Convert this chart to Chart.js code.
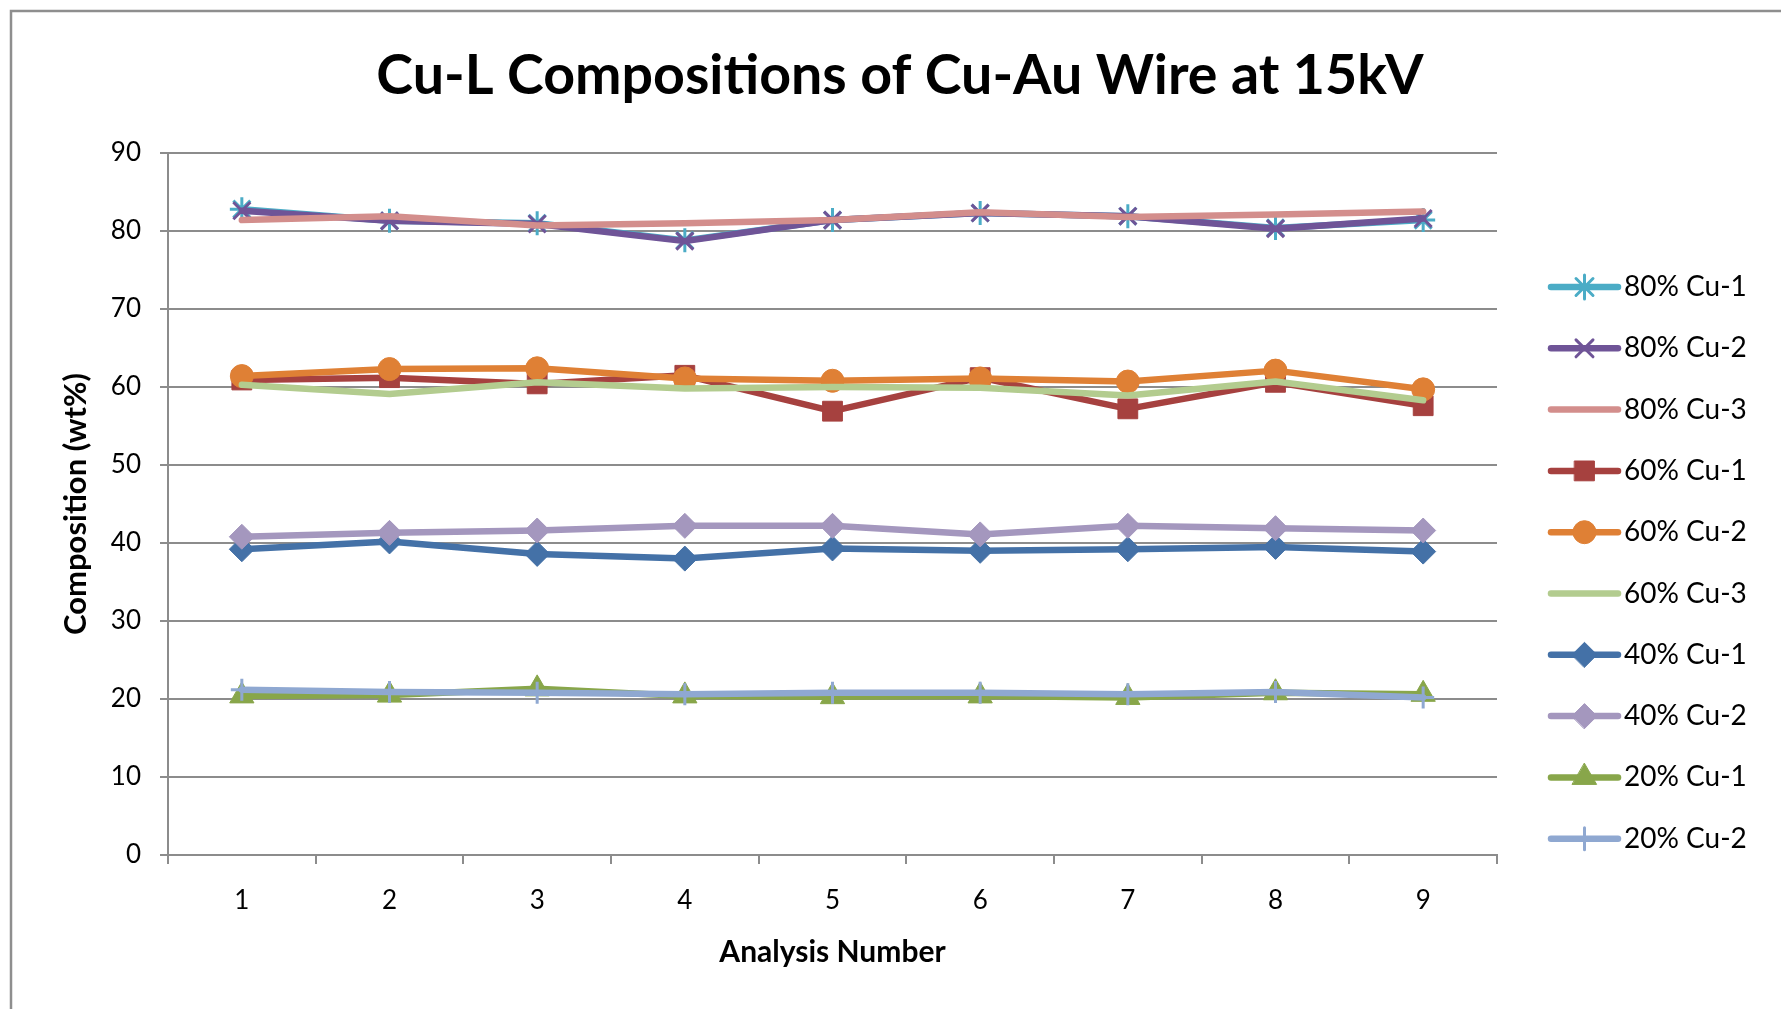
<!DOCTYPE html>
<html>
<head>
<meta charset="utf-8">
<title>Cu-L Compositions of Cu-Au Wire at 15kV</title>
<script src="https://cdn.jsdelivr.net/npm/chart.js@4"></script>
<style>
  html, body { margin: 0; padding: 0; background: #ffffff; }
  #wrap { width: 1781px; height: 1009px; }
</style>
</head>
<body>
<div id="wrap"><canvas id="chart" width="1781" height="1009"></canvas></div>
<script>
// Analysis numbers along the x axis
const analysisNumbers = ['1', '2', '3', '4', '5', '6', '7', '8', '9'];

// Cu-L composition (wt%) per wire sample
const cu80_1 = [82.8, 81.3, 81.0, 78.8, 81.4, 82.3, 81.9, 80.4, 81.4];
const cu80_2 = [82.6, 81.3, 80.9, 78.7, 81.4, 82.3, 81.9, 80.3, 81.6];
const cu80_3 = [81.4, 81.9, 80.7, 81.0, 81.4, 82.4, 81.8, 82.1, 82.5];
const cu60_1 = [60.9, 61.2, 60.4, 61.5, 56.9, 61.2, 57.2, 60.6, 57.6];
const cu60_2 = [61.4, 62.3, 62.4, 61.1, 60.8, 61.1, 60.7, 62.1, 59.7];
const cu60_3 = [60.3, 59.1, 60.6, 59.8, 60.0, 59.9, 58.9, 60.7, 58.3];
const cu40_1 = [39.2, 40.2, 38.6, 38.0, 39.3, 39.0, 39.2, 39.5, 38.9];
const cu40_2 = [40.8, 41.3, 41.6, 42.2, 42.2, 41.1, 42.2, 41.9, 41.6];
const cu20_1 = [20.4, 20.5, 21.3, 20.4, 20.3, 20.4, 20.2, 20.8, 20.6];
const cu20_2 = [21.2, 20.9, 20.8, 20.6, 20.8, 20.8, 20.6, 20.9, 20.2];

const seriesNames = ['80% Cu-1', '80% Cu-2', '80% Cu-3', '60% Cu-1', '60% Cu-2',
                     '60% Cu-3', '40% Cu-1', '40% Cu-2', '20% Cu-1', '20% Cu-2'];
const seriesValues = [cu80_1, cu80_2, cu80_3, cu60_1, cu60_2, cu60_3, cu40_1, cu40_2, cu20_1, cu20_2];

// Line colour, marker shape, marker radius, marker outline width
const seriesStyles = [
  { color: '#4BACC6', point: 'star',     r: 12, bw: 3 },
  { color: '#6F5497', point: 'crossRot', r: 12, bw: 3 },
  { color: '#D38E8C', point: false,      r: 0,  bw: 0 },
  { color: '#A6413F', point: 'rect',     r: 14, bw: 1 },
  { color: '#DF8035', point: 'circle',   r: 11.5, bw: 1 },
  { color: '#B3CC8F', point: false,      r: 0,  bw: 0 },
  { color: '#4471A7', point: 'rectRot',  r: 12.5, bw: 1 },
  { color: '#A497BE', point: 'rectRot',  r: 12.5, bw: 1 },
  { color: '#88A64A', point: 'triangle', r: 14, bw: 1 },
  { color: '#8FA8D1', point: 'cross',    r: 11, bw: 3 }
];

const FONT = 'Lato, "Open Sans", "DejaVu Sans", sans-serif';
const GRID = '#8C8C8C';

const datasets = seriesNames.map((name, i) => {
  const s = seriesStyles[i];
  return {
    label: name,
    data: seriesValues[i],
    borderColor: s.color,
    backgroundColor: s.color,
    borderWidth: 6.5,
    borderCapStyle: 'round',
    borderJoinStyle: 'round',
    pointStyle: s.point,
    pointRadius: s.r,
    pointHoverRadius: s.r,
    pointBorderWidth: s.bw,
    pointBorderColor: s.color,
    pointBackgroundColor: s.color,
    tension: 0,
    fill: false,
    // later series are painted over earlier ones
    order: seriesNames.length - i
  };
});

// White background, outer frame and the chart title
const frameAndTitle = {
  id: 'frameAndTitle',
  beforeDraw(chart) {
    const ctx = chart.ctx;
    ctx.save();
    ctx.fillStyle = '#ffffff';
    ctx.fillRect(0, 0, chart.width, chart.height);
    ctx.strokeStyle = '#8E8E8E';
    ctx.lineWidth = 2.5;
    ctx.strokeRect(11, 11, chart.width + 20, chart.height + 20);
    ctx.restore();
  },
  afterDraw(chart) {
    const ctx = chart.ctx;
    ctx.save();
    ctx.fillStyle = '#000000';
    ctx.font = 'bold 55.5px ' + FONT;
    ctx.textAlign = 'center';
    ctx.textBaseline = 'middle';
    ctx.fillText('Cu-L Compositions of Cu-Au Wire at 15kV', 900, 76);
    ctx.restore();
  }
};

// Legend on the right: a line sample with its marker, then the series name
const sideLegend = {
  id: 'sideLegend',
  afterDraw(chart) {
    const ctx = chart.ctx;
    const x0 = 1551, x1 = 1618, top = 287, step = 61.3;
    ctx.save();
    chart.data.datasets.forEach((ds, i) => {
      const y = top + i * step;
      ctx.strokeStyle = ds.borderColor;
      ctx.lineWidth = 6.5;
      ctx.lineCap = 'round';
      ctx.beginPath();
      ctx.moveTo(x0, y);
      ctx.lineTo(x1, y);
      ctx.stroke();
      if (ds.pointStyle) {
        ctx.fillStyle = ds.pointBackgroundColor;
        ctx.strokeStyle = ds.pointBorderColor;
        ctx.lineWidth = ds.pointBorderWidth;
        Chart.helpers.drawPoint(ctx, {
          pointStyle: ds.pointStyle,
          radius: ds.pointRadius,
          rotation: 0,
          borderWidth: ds.pointBorderWidth
        }, (x0 + x1) / 2, y);
      }
      ctx.fillStyle = '#000000';
      ctx.font = '28px ' + FONT;
      ctx.textAlign = 'left';
      ctx.textBaseline = 'middle';
      ctx.fillText(ds.label, 1624, y);
    });
    ctx.restore();
  }
};

new Chart(document.getElementById('chart'), {
  type: 'line',
  data: { labels: analysisNumbers, datasets },
  options: {
    responsive: false,
    devicePixelRatio: 1,
    animation: false,
    layout: { padding: { top: 153, right: 284, left: 0, bottom: 0 } },
    plugins: {
      legend: { display: false },
      title: { display: false },
      tooltip: { enabled: false }
    },
    scales: {
      x: {
        offset: true,
        afterFit(scale) { scale.height = 154; },
        grid: {
          offset: true,
          drawOnChartArea: false,
          drawTicks: true,
          tickLength: 9,
          color: GRID,
          lineWidth: 2
        },
        border: { display: true, color: GRID, width: 2 },
        ticks: {
          color: '#000000',
          font: { family: FONT, size: 26 },
          padding: 21,
          maxRotation: 0
        },
        title: {
          display: true,
          text: 'Analysis Number',
          color: '#000000',
          font: { family: FONT, size: 30, weight: 'bold' },
          padding: { bottom: 39, top: 0 }
        }
      },
      y: {
        min: 0,
        max: 90,
        afterFit(scale) { scale.width = 168; },
        grid: {
          color: GRID,
          lineWidth: 2,
          drawTicks: true,
          tickLength: 8
        },
        border: { display: true, color: GRID, width: 2 },
        ticks: {
          stepSize: 10,
          color: '#000000',
          font: { family: FONT, size: 26 },
          padding: 19
        },
        title: {
          display: true,
          text: 'Composition (wt%)',
          color: '#000000',
          font: { family: FONT, size: 31, weight: 'bold' },
          padding: { top: 57, bottom: 0 }
        }
      }
    }
  },
  plugins: [frameAndTitle, sideLegend]
});
</script>
</body>
</html>
